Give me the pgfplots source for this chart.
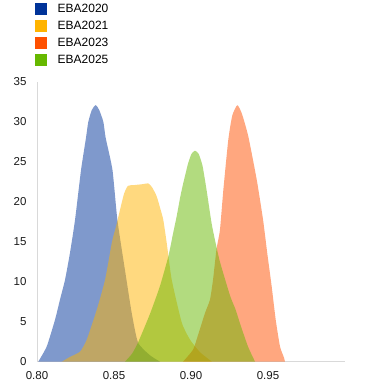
\documentclass[border=0pt]{standalone}
\usepackage{fontspec}
\setmainfont{Liberation Sans}
\usepackage{pgfplots}
\pgfplotsset{compat=1.18}
\definecolor{cA}{HTML}{003399}
\definecolor{cB}{HTML}{FFB400}
\definecolor{cC}{HTML}{FF5000}
\definecolor{cD}{HTML}{66B800}
\definecolor{axgray}{HTML}{D9D9D9}
\pgfplotsset{sqlegend/.style={legend image code/.code={\fill[#1] (0pt,-5.5pt) rectangle (11pt,5.5pt);}}}
\begin{document}
\begin{tikzpicture}
\useasboundingbox (0,0) rectangle (372pt,390pt);
\begin{axis}[
  at={(37pt,28.3pt)}, anchor=south west,
  scale only axis, width=308pt, height=279.7pt,
  xmin=0.80, xmax=1.00, ymin=0, ymax=35,
  axis lines*=left,
  axis line style={draw=axgray, line width=0.8pt, -},
  major tick length=0pt,
  xtick={0.80,0.85,0.90,0.95},
  ytick={0,5,10,15,20,25,30,35},
  xticklabel style={/pgf/number format/fixed, /pgf/number format/precision=2, /pgf/number format/fixed zerofill, yshift=-6pt},
  yticklabel style={xshift=-7pt},
  /pgf/number format/assume math mode=true,
  tick label style={font=\fontsize{11.5}{13}\selectfont, text=black!90},
  legend style={at={(-0.003,1.294)}, anchor=north west, draw=none, fill=none,
    xshift=-4pt, yshift=-1pt,
    font=\fontsize{12}{14}\selectfont, row sep=5.7pt,
    nodes={inner sep=0pt},
    /tikz/every odd column/.append style={column sep=11pt}},
  legend cell align=left,
]
\addplot[fill=cA, fill opacity=0.5, draw=none, smooth, tension=0.35, forget plot] coordinates {
(0.8008,0) (0.8063,1.9) (0.8117,5.25) (0.8149,7.75) (0.8182,10.25) (0.8214,13.6) (0.8247,17.75) (0.8286,24) (0.8318,28) (0.8333,30) (0.8356,31.5) (0.8381,32.1) (0.8404,31.5) (0.8431,30) (0.8446,28) (0.8490,24) (0.8522,17.75) (0.8575,11) (0.8615,6.1) (0.8656,2.4) (0.8734,0.8) (0.8799,0)
} \closedcycle;
\addplot[fill=cB, fill opacity=0.5, draw=none, smooth, tension=0.35, forget plot] coordinates {
(0.8162,0) (0.8214,0.6) (0.8279,1.25) (0.8323,2.75) (0.8388,6.5) (0.8442,10.25) (0.8487,15) (0.8513,16.9) (0.8539,19) (0.8565,21) (0.8590,22) (0.8630,22.1) (0.8680,22.2) (0.8723,22.3) (0.8748,21.8) (0.8777,20.7) (0.8800,19.2) (0.8820,17.75) (0.8842,14.9) (0.8875,10.25) (0.8940,4.9) (0.8994,2.75) (0.9058,1.2) (0.9136,0)
} \closedcycle;
\addplot[fill=cC, fill opacity=0.5, draw=none, smooth, tension=0.35, forget plot] coordinates {
(0.8948,0) (0.9013,1.5) (0.9045,3.3) (0.9091,6.1) (0.9123,7.75) (0.9143,10.25) (0.9165,14) (0.9188,16.5) (0.9210,21.5) (0.9242,27.75) (0.9268,30.8) (0.9301,32.1) (0.9331,31) (0.9372,28.2) (0.9427,22.75) (0.9468,17.75) (0.9495,13.6) (0.9524,9.4) (0.9550,5.25) (0.9578,1.9) (0.9604,0.5) (0.9610,0)
} \closedcycle;
\addplot[fill=cD, fill opacity=0.5, draw=none, smooth, tension=0.35, forget plot] coordinates {
(0.8571,0) (0.8617,1) (0.8656,2.4) (0.8734,6) (0.8799,9.5) (0.8853,13.2) (0.8883,16) (0.8907,18.2) (0.8929,20.5) (0.8948,22.2) (0.8981,24.8) (0.9003,26) (0.9026,26.4) (0.9050,26) (0.9075,24.5) (0.9101,21.5) (0.9133,17.4) (0.9156,15.2) (0.9188,12.5) (0.9253,8.3) (0.9290,6.5) (0.9318,4.8) (0.9370,1.9) (0.9416,0)
} \closedcycle;
\addlegendimage{sqlegend=cA}
\addlegendentry{EBA2020}
\addlegendimage{sqlegend=cB}
\addlegendentry{EBA2021}
\addlegendimage{sqlegend=cC}
\addlegendentry{EBA2023}
\addlegendimage{sqlegend=cD}
\addlegendentry{EBA2025}
\end{axis}
\end{tikzpicture}
\end{document}
